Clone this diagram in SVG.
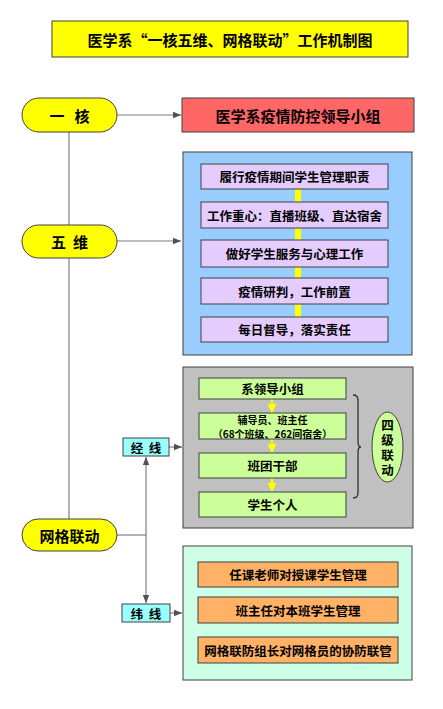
<svg xmlns="http://www.w3.org/2000/svg" width="443" height="709" viewBox="0 0 443 709">
<defs>
<style>
text{font-family:"Noto Sans CJK SC","Noto Sans",sans-serif;font-weight:bold;fill:#000;text-anchor:middle;dominant-baseline:central}
.bx{stroke:#404040;stroke-width:1}
.ln{stroke:#7f7f7f;stroke-width:1.2;fill:none}
.t15{font-size:15px}
.t13{font-size:12.5px}
.t10{font-size:10px}
.vt{writing-mode:vertical-rl;letter-spacing:2.5px}
</style>
<marker id="ah" viewBox="0 0 10 10" refX="10" refY="5" markerWidth="8" markerHeight="8" markerUnits="userSpaceOnUse" orient="auto"><path d="M0,1 L10,5 L0,9 Z" fill="#505050"/></marker>
<marker id="ya" viewBox="0 0 10 10" refX="10" refY="5" markerWidth="9" markerHeight="9" markerUnits="userSpaceOnUse" orient="auto"><path d="M0,0 L10,5 L0,10 Z" fill="#ffff00"/></marker>
</defs>
<rect width="443" height="709" fill="#fff"/>

<g id="title"><rect class="bx" x="52" y="21" width="356" height="36" fill="#ffff00"/><text class="t15" x="230" y="39">医学系“一核五维、网格联动”工作机制图</text></g>

<g id="connectors">
<line class="ln" x1="69" y1="132" x2="69" y2="519"/>
<line class="ln" x1="117" y1="115" x2="181" y2="115" marker-end="url(#ah)"/>
<line class="ln" x1="117" y1="241" x2="181" y2="241" marker-end="url(#ah)"/>
<line class="ln" x1="117" y1="535" x2="146" y2="535"/>
<line class="ln" x1="146" y1="535" x2="146" y2="457" marker-end="url(#ah)"/>
<line class="ln" x1="146" y1="535" x2="146" y2="603" marker-end="url(#ah)"/>
<line class="ln" x1="169" y1="447" x2="182" y2="447" marker-end="url(#ah)"/>
<line class="ln" x1="170" y1="613" x2="182" y2="613" marker-end="url(#ah)"/>
</g>

<g id="yihe"><rect class="bx" x="22" y="98" width="95" height="34" rx="17" fill="#ffff00"/><text class="t15" x="69.5" y="115" xml:space="preserve">一   核</text></g>
<g id="leader"><rect class="bx" x="182" y="98" width="232" height="34" fill="#ff6666"/><text class="t15" x="298" y="115">医学系疫情防控领导小组</text></g>

<g id="wuwei"><rect class="bx" x="22" y="225" width="95" height="33" rx="16.5" fill="#ffff00"/><text class="t15" x="69.5" y="241.5" xml:space="preserve">五  维</text></g>
<g id="wuwei-box">
<rect class="bx" x="183" y="152" width="229" height="203" fill="#99ccff"/>
<rect x="295" y="189" width="6" height="128" fill="#ffff00"/>
<rect class="bx" x="201" y="164" width="187" height="25" fill="#e5ccff"/><text class="t13" x="294.5" y="176.5">履行疫情期间学生管理职责</text>
<rect class="bx" x="201" y="202" width="187" height="26" fill="#e5ccff"/><text class="t13" x="294.5" y="215">工作重心：直播班级、直达宿舍</text>
<rect class="bx" x="201" y="240" width="187" height="27" fill="#e5ccff"/><text class="t13" x="294.5" y="253.5">做好学生服务与心理工作</text>
<rect class="bx" x="201" y="278" width="187" height="26" fill="#e5ccff"/><text class="t13" x="294.5" y="291">疫情研判，工作前置</text>
<rect class="bx" x="201" y="317" width="187" height="25" fill="#e5ccff"/><text class="t13" x="294.5" y="329.5">每日督导，落实责任</text>
</g>

<g id="jingxian"><rect class="bx" x="123" y="438" width="46" height="18" fill="#99ffff"/><text class="t13" x="146" y="447" xml:space="preserve">经  线</text></g>
<g id="jing-box">
<rect class="bx" x="183" y="367" width="230" height="161" fill="#c0c0c0"/>
<line x1="272" y1="399" x2="272" y2="413" stroke="#ffff00" stroke-width="2" marker-end="url(#ya)"/>
<line x1="272" y1="439" x2="272" y2="453" stroke="#ffff00" stroke-width="2" marker-end="url(#ya)"/>
<line x1="272" y1="478" x2="272" y2="492" stroke="#ffff00" stroke-width="2" marker-end="url(#ya)"/>
<rect class="bx" x="199" y="378" width="147" height="21" fill="#ccff99"/><text class="t13" x="272.5" y="388.5">系领导小组</text>
<rect class="bx" x="199" y="413" width="147" height="26" fill="#ccff99"/><text class="t10"><tspan x="272.5" y="418.75">辅导员、班主任</tspan><tspan x="272.5" y="433.25">（68个班级、262间宿舍）</tspan></text>
<rect class="bx" x="199" y="453" width="147" height="25" fill="#ccff99"/><text class="t13" x="272.5" y="465.5">班团干部</text>
<rect class="bx" x="199" y="492" width="147" height="25" fill="#ccff99"/><text class="t13" x="272.5" y="504.5">学生个人</text>
<path d="M353,395 Q358,395 358,400 L358,442 Q358,447 361,447 Q358,447 358,452 L358,493 Q358,498 353,498" fill="none" stroke="#303030" stroke-width="1.3"/>
<ellipse class="bx" cx="387.5" cy="447" rx="15.5" ry="35" fill="#ccff99"/>
<text class="t13 vt" x="387.5" y="448.5">四级联动</text>
</g>

<g id="wangge"><rect class="bx" x="22" y="519" width="95" height="32" rx="16" fill="#ffff00"/><text class="t15" x="69.5" y="535">网格联动</text></g>

<g id="weixian"><rect class="bx" x="122" y="604" width="48" height="18" fill="#99ffff"/><text class="t13" x="146" y="613" xml:space="preserve">纬  线</text></g>
<g id="wei-box">
<rect class="bx" x="183" y="546" width="229" height="134" fill="#ccffe5"/>
<rect class="bx" x="198" y="562" width="200" height="25" fill="#ffb266"/><text class="t13" x="298" y="574.5">任课老师对授课学生管理</text>
<rect class="bx" x="198" y="597" width="200" height="26" fill="#ffb266"/><text class="t13" x="298" y="610">班主任对本班学生管理</text>
<rect class="bx" x="198" y="637" width="200" height="26" fill="#ffb266"/><text class="t13" x="298" y="650">网格联防组长对网格员的协防联管</text>
</g>
</svg>
